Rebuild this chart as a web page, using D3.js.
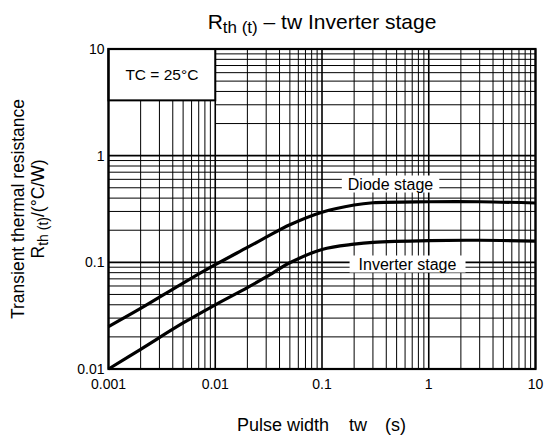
<!DOCTYPE html>
<html>
<head>
<meta charset="utf-8">
<script src="https://cdn.jsdelivr.net/npm/d3@7"></script>
<style>
  body { margin: 0; background: #fff; }
  text { font-family: "Liberation Sans", Arial, sans-serif; fill: #000; }
</style>
</head>
<body>
<script>
// tick values
const xTicks = [0.001, 0.01, 0.1, 1, 10];
const yTicks = [0.01, 0.1, 1, 10];
const xTickLabels = ["0.001", "0.01", "0.1", "1", "10"];
const yTickLabels = ["0.01", "0.1", "1", "10"];

const tw = [0.001, 0.002, 0.005, 0.01, 0.02, 0.03, 0.05, 0.1, 0.2, 0.3, 1, 3, 10];
const diode = [0.025, 0.037, 0.064, 0.095, 0.138, 0.172, 0.225, 0.295, 0.345, 0.362, 0.37, 0.37, 0.36];
const inverter = [0.01, 0.0153, 0.027, 0.040, 0.058, 0.073, 0.099, 0.132, 0.148, 0.154, 0.16, 0.161, 0.158];

const width = 547, height = 439;
const margin = {top: 49, right: 11.5, bottom: 70, left: 108.5};

const svg = d3.select("body").append("svg")
    .attr("width", width)
    .attr("height", height);

const x = d3.scaleLog().domain([0.001, 10]).range([margin.left, width - margin.right]);
const y = d3.scaleLog().domain([0.01, 10]).range([height - margin.bottom, margin.top]);

// grid lines
const grid = svg.append("g").attr("stroke", "#000");

const xMinor = [];
for (const d of [0.001, 0.01, 0.1, 1]) for (let m = 2; m <= 9; m++) xMinor.push(m * d);
const yMinor = [];
for (const d of [0.01, 0.1, 1]) for (let m = 2; m <= 9; m++) yMinor.push(m * d);

grid.selectAll(".vx").data(xMinor).join("line")
    .attr("x1", d => x(d)).attr("x2", d => x(d))
    .attr("y1", y(0.01)).attr("y2", y(10))
    .attr("stroke-width", 1);

// the first decade has no minor rows at the top (behind the TC box)
grid.selectAll(".hy").data(yMinor).join("line")
    .attr("x1", d => d >= 1 ? x(0.01) : x(0.001)).attr("x2", x(10))
    .attr("y1", d => y(d)).attr("y2", d => y(d))
    .attr("stroke-width", 1);

grid.selectAll(".vmaj").data(xTicks).join("line")
    .attr("x1", d => x(d)).attr("x2", d => x(d))
    .attr("y1", y(0.01)).attr("y2", y(10))
    .attr("stroke-width", 1.6);

grid.selectAll(".hmaj").data(yTicks).join("line")
    .attr("x1", x(0.001)).attr("x2", x(10))
    .attr("y1", d => y(d)).attr("y2", d => y(d))
    .attr("stroke-width", 1.6);

// TC box
svg.append("rect")
    .attr("x", x(0.001)).attr("y", y(10))
    .attr("width", x(0.01) - x(0.001)).attr("height", y(3.3) - y(10))
    .attr("fill", "#fff").attr("stroke", "#000").attr("stroke-width", 2);
svg.append("text")
    .attr("x", (x(0.001) + x(0.01)) / 2).attr("y", 80)
    .attr("text-anchor", "middle").attr("font-size", 15.5)
    .text("TC = 25°C");

// curves
const line = d3.line()
    .x(d => x(d[0])).y(d => y(d[1]))
    .curve(d3.curveCatmullRom.alpha(0.5));

svg.append("path")
    .datum(tw.map((t, i) => [t, diode[i]]))
    .attr("d", line)
    .attr("fill", "none").attr("stroke", "#000").attr("stroke-width", 3.2);

svg.append("path")
    .datum(tw.map((t, i) => [t, inverter[i]]))
    .attr("d", line)
    .attr("fill", "none").attr("stroke", "#000").attr("stroke-width", 3.2);

// curve labels on white patches
function label(txt, cx, cy, pad) {
  const g = svg.append("g");
  const r = g.append("rect").attr("fill", "#fff");
  const t = g.append("text")
      .attr("x", cx).attr("y", cy)
      .attr("text-anchor", "middle").attr("dominant-baseline", "central")
      .attr("font-size", 16).text(txt);
  const b = t.node().getBBox();
  r.attr("x", b.x - pad).attr("y", b.y).attr("width", b.width + 2 * pad).attr("height", b.height);
}
label("Diode stage", 390.5, 184, 6);
label("Inverter stage", 407.5, 264, 9);

// frame
svg.append("rect")
    .attr("x", x(0.001)).attr("y", y(10))
    .attr("width", x(10) - x(0.001)).attr("height", y(0.01) - y(10))
    .attr("fill", "none").attr("stroke", "#000").attr("stroke-width", 2.2);

// tick labels
svg.selectAll(".xt").data(xTicks).join("text")
    .attr("x", d => x(d)).attr("y", y(0.01) + 20)
    .attr("text-anchor", "middle").attr("font-size", 14)
    .text((d, i) => xTickLabels[i]);

svg.selectAll(".yt").data(yTicks).join("text")
    .attr("x", x(0.001) - 4).attr("y", d => y(d) + 5)
    .attr("text-anchor", "end").attr("font-size", 14)
    .text((d, i) => yTickLabels[i]);

// title
const title = svg.append("text")
    .attr("x", 322).attr("y", 29)
    .attr("text-anchor", "middle").attr("font-size", 21);
title.append("tspan").text("R");
title.append("tspan").attr("font-size", 17).attr("dy", 4).text("th (t)");
title.append("tspan").attr("dy", -4).text(" – tw Inverter stage");

// x axis title, three parts
svg.append("text").attr("x", 237).attr("y", 431).attr("font-size", 18).text("Pulse width");
svg.append("text").attr("x", 349).attr("y", 431).attr("font-size", 18).text("tw");
svg.append("text").attr("x", 385).attr("y", 431).attr("font-size", 18).text("(s)");

// y axis title
const yc = (y(10) + y(0.01)) / 2;
svg.append("text")
    .attr("transform", `translate(24,${yc}) rotate(-90)`)
    .attr("text-anchor", "middle").attr("font-size", 17.5)
    .text("Transient thermal resistance");
const yl = svg.append("text")
    .attr("transform", `translate(44,${yc}) rotate(-90)`)
    .attr("text-anchor", "middle").attr("font-size", 17.5);
yl.append("tspan").text("R");
yl.append("tspan").attr("font-size", 14).attr("dy", 3.5).text("th (t)");
yl.append("tspan").attr("dy", -3.5).text("/(°C/W)");
</script>
</body>
</html>
